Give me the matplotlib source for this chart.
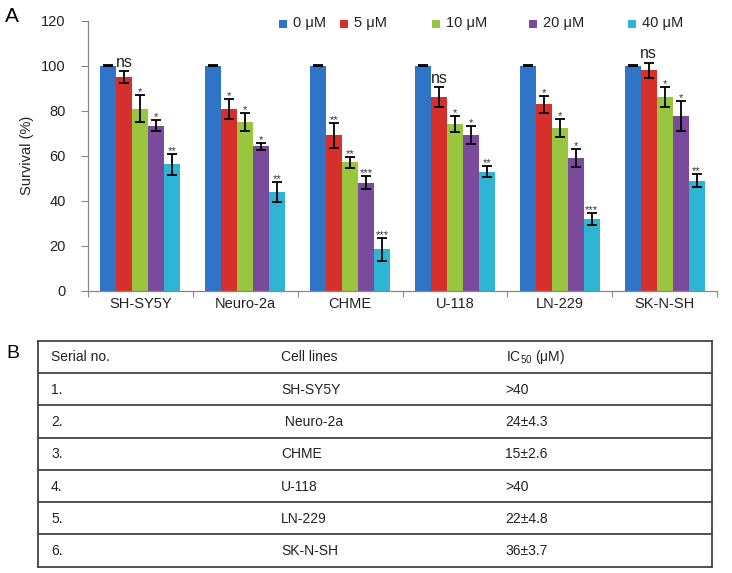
import matplotlib
matplotlib.use("Agg")
import matplotlib.pyplot as plt
from matplotlib.patches import Rectangle
from matplotlib.lines import Line2D
from matplotlib import font_manager
import numpy as np

# ---------------- data ----------------
cell_lines = ["SH-SY5Y", "Neuro-2a", "CHME", "U-118", "LN-229", "SK-N-SH"]
doses = ["0 μM", "5 μM", "10 μM", "20 μM", "40 μM"]

v0 = [100, 100, 100, 100, 100, 100]
v5 = [95.0, 80.9, 69.2, 86.0, 82.9, 98.0]
v10 = [80.9, 75.0, 57.1, 74.3, 72.4, 86.0]
v20 = [73.4, 64.2, 48.1, 69.2, 59.2, 77.8]
v40 = [56.2, 44.0, 18.5, 53.0, 31.8, 49.0]

e0 = [0.3, 0.3, 0.3, 0.3, 0.3, 0.3]
e5 = [2.7, 4.4, 5.5, 4.4, 3.8, 3.3]
e10 = [5.9, 4.1, 2.6, 3.5, 4.1, 4.4]
e20 = [2.4, 1.5, 2.8, 4.1, 4.0, 6.7]
e40 = [4.6, 4.6, 5.1, 2.4, 2.7, 2.9]

s0 = ["", "", "", "", "", ""]
s5 = ["ns", "*", "**", "ns", "*", "ns"]
s10 = ["*", "*", "**", "*", "*", "*"]
s20 = ["*", "*", "***", "*", "*", "*"]
s40 = ["**", "**", "***", "**", "***", "**"]

yticks = [0, 20, 40, 60, 80, 100, 120]
ylabel = "Survival (%)"

table_header = ["Serial no.", "Cell lines", r"$\mathregular{IC_{50}}$ (μM)"]
serial_no = ["1.", "2.", "3.", "4.", "5.", "6."]
table_cells = ["SH-SY5Y", " Neuro-2a", "CHME", "U-118", "LN-229", "SK-N-SH"]
ic50 = [">40", "24±4.3", "15±2.6", ">40", "22±4.8", "36±3.7"]

# ---------------- style ----------------
colors = ["#2F74C7", "#D5302B", "#9AC53E", "#7A4A9D", "#2FB5D4"]
W, H = 732, 573
font = "Liberation Sans"
names = {f.name for f in font_manager.fontManager.ttflist}
narrow = "Liberation Sans Narrow" if "Liberation Sans Narrow" in names else font
plt.rcParams["font.family"] = [font, "DejaVu Sans"]
plt.rcParams["mathtext.fontset"] = "custom"
plt.rcParams["mathtext.rm"] = narrow

fig = plt.figure(figsize=(W / 100, H / 100), dpi=100)

def fx(px):
    return px / W

def fy(py):
    return 1 - py / H

ax = fig.add_axes([fx(88), fy(291), fx(717) - fx(88), fy(20.7) - fy(291)])

values = [v0, v5, v10, v20, v40]
errs = [e0, e5, e10, e20, e40]
sigs = [s0, s5, s10, s20, s40]
x = np.arange(len(cell_lines))
bw = 0.1527
for j in range(5):
    xs = x + (j - 2) * bw
    ax.bar(xs, values[j], bw, color=colors[j], edgecolor="none", zorder=2)
    ax.errorbar(xs, values[j], yerr=errs[j], fmt="none", ecolor="black",
                elinewidth=1.3, capsize=3.8, capthick=1.3, zorder=3)
    for i in range(len(cell_lines)):
        lab = sigs[j][i]
        if not lab:
            continue
        top = values[j][i] + errs[j][i]
        if lab == "ns":
            ax.annotate(lab, (xs[i], top), xytext=(0, 1.0), textcoords="offset points",
                        ha="center", va="bottom", fontsize=11.5, color="#222222")
        else:
            ax.annotate(lab, (xs[i], top), xytext=(0, -1.5), textcoords="offset points",
                        ha="center", va="bottom", fontsize=8, color="#333333")

ax.set_xlim(-0.5, len(cell_lines) - 0.5)
ax.set_ylim(0, 120)
ax.set_yticks(yticks)
ax.set_yticklabels([str(t) for t in yticks], fontsize=10.5, color="#222222")
ax.set_xticks(x)
ax.set_xticklabels(cell_lines, fontsize=10.5, color="#222222")
ax.set_xticks(np.arange(-0.5, len(cell_lines)), minor=True)
ax.tick_params(axis="x", which="major", length=0, pad=4)
ax.tick_params(axis="x", which="minor", length=4, width=0.8, color="#888888", direction="out")
ax.tick_params(axis="y", which="major", length=5, width=0.8, color="#888888", pad=11)
for s in ["top", "right"]:
    ax.spines[s].set_visible(False)
for s in ["left", "bottom"]:
    ax.spines[s].set_color("#888888")
    ax.spines[s].set_linewidth(0.9)
ax.set_ylabel(ylabel, fontsize=10.5, color="#222222", labelpad=5)

# legend (manual placement)
leg_marker_x = [283, 344, 436, 533, 632]
leg_y = 23.5
sq = 8
for j in range(5):
    mx = leg_marker_x[j]
    fig.patches.append(Rectangle((fx(mx - sq / 2), fy(leg_y + sq / 2)), sq / W, sq / H,
                                 transform=fig.transFigure, facecolor=colors[j],
                                 edgecolor="none"))
    fig.text(fx(mx + 10), fy(leg_y), doses[j], fontsize=10.5, va="center", ha="left",
             color="#222222")

# panel labels
fig.text(fx(5), fy(17), "A", fontsize=15, va="center", ha="left")
fig.text(fx(6), fy(353), "B", fontsize=14, va="center", ha="left")

# ---------------- table ----------------
tl, tr = 38.3, 712.3
row_lines = [340.7, 372.7, 405.3, 437.7, 470.3, 502.3, 534.3, 566.7]
lc = "#444444"
for k, ry in enumerate(row_lines):
    fig.add_artist(Line2D([fx(tl), fx(tr)], [fy(ry), fy(ry)], transform=fig.transFigure,
                          color=lc, linewidth=1.3))
for vx in [tl, tr]:
    fig.add_artist(Line2D([fx(vx), fx(vx)], [fy(row_lines[0]), fy(row_lines[-1])],
                          transform=fig.transFigure, color=lc, linewidth=1.3))

col_x = [51, 281, 505.5]
rows = [table_header] + [[serial_no[i], table_cells[i], ic50[i]] for i in range(len(serial_no))]
for r, row in enumerate(rows):
    cy = (row_lines[r] + row_lines[r + 1]) / 2 + 0.5
    for c, txt in enumerate(row):
        fig.text(fx(col_x[c]), fy(cy), txt, fontsize=10, family=[narrow, "DejaVu Sans"],
                 va="center", ha="left", color="#222222")

fig.savefig("out.png", dpi=100)
